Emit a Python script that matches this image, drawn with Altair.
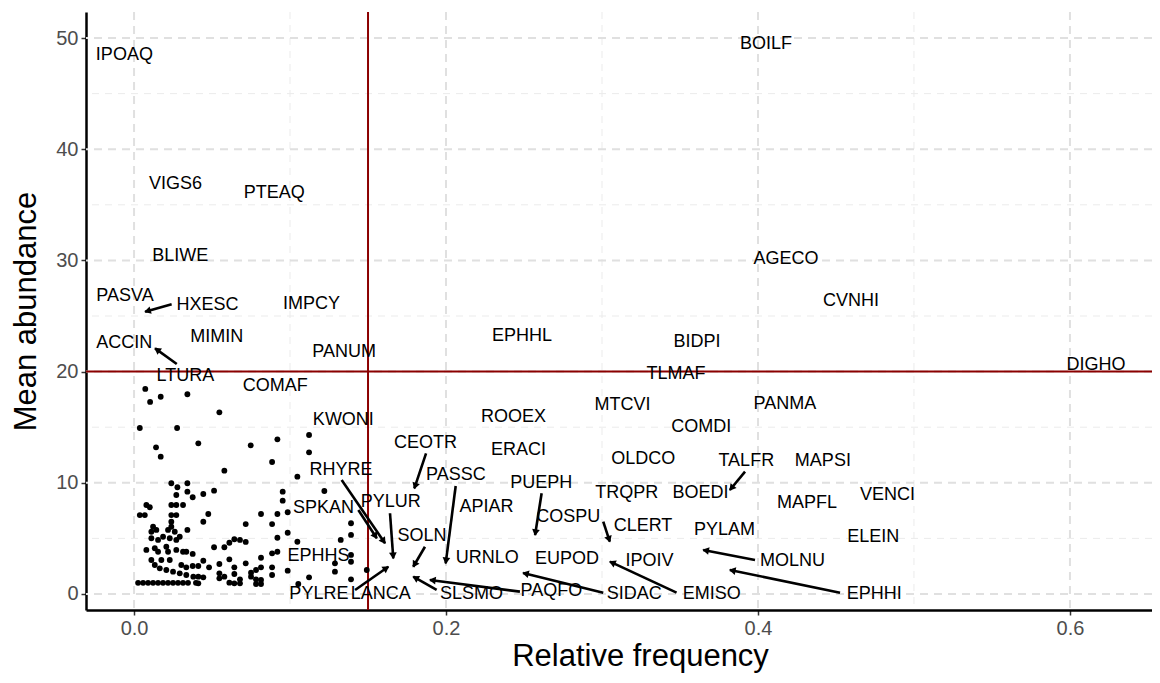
import math
import altair as alt
import pandas as pd

# ---------------- data ----------------
# unlabelled species (black dots)
dot_x = [0.0072, 0.0103, 0.0171, 0.0342, 0.0547, 0.0037, 0.0276, 0.0141, 0.0171, 0.0412,
         0.0748, 0.0919, 0.1122, 0.1122, 0.0885, 0.0579, 0.1047, 0.1220, 0.0239, 0.0278,
         0.0342, 0.0342, 0.0376, 0.0271, 0.0444, 0.0513, 0.0953, 0.0953, 0.0079, 0.0101,
         0.0037, 0.0069, 0.0239, 0.0271, 0.0314, 0.0239, 0.0271, 0.0239, 0.0476, 0.0444,
         0.0814, 0.0919, 0.0985, 0.0716, 0.0885, 0.0985, 0.0919, 0.1047, 0.1391, 0.1391,
         0.1325, 0.1391, 0.1391, 0.1288, 0.1288, 0.1122, 0.1053, 0.1391, 0.1492, 0.0985,
         0.0885, 0.0513, 0.0579, 0.0611, 0.0643, 0.0679, 0.0716, 0.0919, 0.0885, 0.0376,
         0.0376, 0.0412, 0.0444, 0.0481, 0.0547, 0.0611, 0.0643, 0.0716, 0.0814, 0.0814,
         0.0885, 0.0547, 0.0579, 0.0643, 0.0750, 0.0782, 0.0380, 0.0412, 0.0444, 0.0412,
         0.0547, 0.0611, 0.0643, 0.0679, 0.0679, 0.0750, 0.0782, 0.0814, 0.0814, 0.0782,
         0.0122, 0.0111, 0.0143, 0.0218, 0.0239, 0.0261, 0.0111, 0.0154, 0.0186, 0.0229,
         0.0271, 0.0293, 0.0079, 0.0133, 0.0154, 0.0207, 0.0218, 0.0271, 0.0314, 0.0335,
         0.0111, 0.0175, 0.0229, 0.0133, 0.0165, 0.0207, 0.0250, 0.0293, 0.0335, 0.0303,
         0.0335, 0.0342,
         0.0026, 0.0058, 0.0090, 0.0122, 0.0154, 0.0186, 0.0218, 0.0250, 0.0282, 0.0314,
         0.0346, 0.0397]
dot_y = [18.44, 17.27, 17.74, 17.96, 16.34, 14.93, 14.93, 13.19, 12.35, 13.55,
         13.37, 13.91, 14.30, 12.74, 11.87, 11.09, 10.55, 9.26, 9.96, 9.60,
         9.96, 9.20, 8.70, 8.90, 8.99, 9.29, 9.20, 8.39, 8.00, 7.80,
         7.10, 7.10, 8.00, 8.00, 8.00, 7.10, 7.10, 6.50, 7.19, 6.50,
         7.19, 7.19, 7.35, 6.29, 6.29, 5.51, 5.06, 4.70, 6.36, 5.31,
         4.86, 3.51, 2.90, 2.76, 2.01, 1.50, 0.90, 1.32, 2.16, 2.10,
         1.71, 4.20, 4.20, 4.61, 4.92, 4.86, 4.68, 3.80, 3.66, 3.60,
         2.52, 2.52, 2.99, 2.40, 2.70, 3.12, 2.40, 2.76, 3.26, 2.40,
         2.40, 1.86, 1.56, 1.80, 1.92, 2.16, 1.56, 1.56, 1.50, 0.96,
         1.41, 1.02, 0.96, 0.96, 1.32, 1.56, 1.32, 1.26, 0.90, 0.90,
         6.05, 5.60, 5.76, 5.76, 6.05, 5.60, 5.01, 4.86, 5.15, 5.01,
         4.86, 5.15, 3.96, 4.11, 3.80, 4.25, 3.80, 3.96, 3.80, 3.80,
         3.06, 3.06, 3.06, 2.61, 2.31, 2.16, 2.01, 1.86, 1.71, 2.61,
         2.40, 5.76,
         1.0, 1.0, 1.0, 1.0, 1.0, 1.0, 1.0, 1.0, 1.0, 1.0,
         1.0, 1.0]

# labelled species: label position
lab_name = ["IPOAQ", "BOILF", "VIGS6", "PTEAQ", "BLIWE", "AGECO", "PASVA", "HXESC", "IMPCY", "CVNHI",
            "ACCIN", "MIMIN", "PANUM", "EPHHL", "BIDPI", "DIGHO", "TLMAF", "LTURA", "COMAF", "MTCVI",
            "PANMA", "ROOEX", "KWONI", "COMDI", "CEOTR", "ERACI", "OLDCO", "TALFR", "MAPSI", "RHYRE",
            "PASSC", "PUEPH", "TRQPR", "BOEDI", "VENCI", "MAPFL", "PYLUR", "APIAR", "SPKAN", "COSPU",
            "CLERT", "PYLAM", "SOLN", "ELEIN", "EPHHS", "URNLO", "EUPOD", "IPOIV", "MOLNU", "PAQFO",
            "PYLRE", "LANCA", "SLSMO", "SIDAC", "EMISO", "EPHHI"]
lab_x = [-0.0062, 0.4051, 0.0266, 0.0899, 0.0296, 0.4179, -0.0058, 0.0471, 0.1137, 0.4596,
         -0.0063, 0.0530, 0.1347, 0.2487, 0.3609, 0.6167, 0.3474, 0.0329, 0.0905, 0.3131,
         0.4173, 0.2432, 0.1342, 0.3636, 0.1868, 0.2464, 0.3264, 0.3925, 0.4416, 0.1327,
         0.2063, 0.2610, 0.3158, 0.3631, 0.4830, 0.4314, 0.1646, 0.2260, 0.1214, 0.2784,
         0.3263, 0.3785, 0.1846, 0.4739, 0.1182, 0.2265, 0.2776, 0.3304, 0.4222, 0.2675,
         0.1185, 0.1582, 0.2163, 0.3206, 0.3703, 0.4745]
lab_y = [48.43, 49.46, 36.90, 36.10, 30.37, 30.13, 26.84, 26.03, 26.10, 26.35,
         22.59, 23.14, 21.72, 23.20, 22.66, 20.59, 19.78, 19.62, 18.69, 17.00,
         17.09, 15.95, 15.69, 15.02, 13.58, 12.98, 12.16, 11.98, 11.98, 11.12,
         10.66, 9.95, 9.08, 9.08, 8.86, 8.20, 8.23, 7.78, 7.70, 6.92,
         6.13, 5.76, 5.26, 5.13, 3.39, 3.25, 3.18, 2.98, 2.98, 0.29,
         -0.02, 0.00, 0.00, -0.02, 0.00, 0.00]

# leader arrows: species point (tip) and start of the segment near its label
arr_name = ["HXESC", "LTURA", "CEOTR", "PASSC", "PUEPH", "RHYRE", "SPKAN", "PYLUR", "SOLN",
            "LANCA", "SLSMO", "PAQFO", "SIDAC", "EMISO", "EPHHI", "MOLNU", "COSPU", "TALFR"]
arr_x = [0.0071, 0.0135, 0.1797, 0.1998, 0.2571, 0.1609, 0.1556, 0.1662, 0.1790,
         0.1630, 0.1790, 0.1897, 0.2494, 0.3051, 0.3820, 0.3649, 0.3050, 0.3820]
arr_y = [25.39, 22.09, 9.50, 2.76, 5.31, 4.56, 5.01, 3.21, 2.45,
         2.45, 1.56, 1.26, 1.89, 2.91, 2.16, 3.96, 4.71, 9.35]
arr_from_x = [0.0241, 0.0274, 0.1872, 0.2062, 0.2613, 0.1331, 0.1438, 0.1641, 0.1865,
              0.1417, 0.1940, 0.2474, 0.3008, 0.3478, 0.4526, 0.3981, 0.3008, 0.3917]
arr_from_y = [26.05, 20.68, 12.65, 9.71, 9.06, 10.25, 7.55, 7.26, 4.25,
              0.36, 0.36, 0.21, 0.12, 0.12, 0.12, 3.06, 6.50, 11.00]

# reference lines and axis ticks
vline = [0.15]
hline = [20]
x_major = [0.0, 0.2, 0.4, 0.6]
x_minor = [0.1, 0.3, 0.5]
y_major = [0, 10, 20, 30, 40, 50]
y_minor = [5, 15, 25, 35, 45]

# ---------------- chart ----------------
X_DOMAIN = [-0.0308, 0.6526]
Y_DOMAIN = [-1.44, 52.34]
W, H = 1066, 598
FONT = "Liberation Sans"

xs = alt.Scale(domain=X_DOMAIN, nice=False, zero=False)
ys = alt.Scale(domain=Y_DOMAIN, nice=False, zero=False)
xaxis = alt.Axis(values=x_major, format=".1f", title="Relative frequency", grid=False,
                 titleX=554)
yaxis = alt.Axis(values=y_major, title="Mean abundance", grid=False)


def X(f="x"):
    return alt.X(f"{f}:Q", scale=xs, axis=xaxis)


def Y(f="y"):
    return alt.Y(f"{f}:Q", scale=ys, axis=yaxis)


kx = W / (X_DOMAIN[1] - X_DOMAIN[0])
ky = H / (Y_DOMAIN[1] - Y_DOMAIN[0])
ang, hx, hy = [], [], []
for tx, ty, sx, sy in zip(arr_x, arr_y, arr_from_x, arr_from_y):
    dxs = (tx - sx) * kx
    dys = -(ty - sy) * ky
    n = math.hypot(dxs, dys)
    ux, uy = dxs / n, dys / n
    ang.append(math.degrees(math.atan2(ux, -uy)) % 360)
    hx.append(tx - 3.5 * ux / kx)
    hy.append(ty + 3.5 * uy / ky)

dots = pd.DataFrame({"x": dot_x, "y": dot_y})
labels = pd.DataFrame({"name": lab_name, "x": lab_x, "y": lab_y})
arrows = pd.DataFrame({"name": arr_name, "x": arr_x, "y": arr_y,
                       "x2": arr_from_x, "y2": arr_from_y,
                       "hx": hx, "hy": hy, "ang": ang})

grid_minor_v = alt.Chart(pd.DataFrame({"x": x_minor})).mark_rule(
    color="#EBEBEB", strokeWidth=1, strokeDash=[7, 6]).encode(x=X())
grid_major_v = alt.Chart(pd.DataFrame({"x": x_major})).mark_rule(
    color="#E0E0E0", strokeWidth=2, strokeDash=[8, 6]).encode(x=X())
grid_minor_h = alt.Chart(pd.DataFrame({"y": y_minor})).mark_rule(
    color="#EBEBEB", strokeWidth=1, strokeDash=[7, 6]).encode(y=Y())
grid_major_h = alt.Chart(pd.DataFrame({"y": y_major})).mark_rule(
    color="#E0E0E0", strokeWidth=2, strokeDash=[8, 6]).encode(y=Y())

red_v = alt.Chart(pd.DataFrame({"x": vline})).mark_rule(
    color="#8B0000", strokeWidth=2).encode(x=X())
red_h = alt.Chart(pd.DataFrame({"y": hline})).mark_rule(
    color="#8B0000", strokeWidth=2).encode(y=Y())

pts = alt.Chart(dots).mark_circle(color="black", opacity=1, size=34).encode(x=X(), y=Y())

segs = alt.Chart(arrows).mark_rule(color="black", strokeWidth=2.6).encode(
    x=X(), y=Y(), x2="x2:Q", y2="y2:Q")
heads = alt.Chart(arrows).mark_point(
    shape="triangle", filled=True, color="black", opacity=1, size=60).encode(
    x=X("hx"), y=Y("hy"), angle=alt.Angle("ang:Q", scale=None))

texts = alt.Chart(labels).mark_text(
    font=FONT, fontSize=18, color="black", align="center", baseline="middle").encode(
    x=X(), y=Y(), text="name:N")

chart = alt.layer(
    grid_minor_v, grid_minor_h, grid_major_v, grid_major_h,
    red_v, red_h, pts, segs, heads, texts
).properties(
    width=W, height=H,
    autosize=alt.AutoSizeParams(type="none"),
    padding={"left": 78, "top": 4, "right": 0, "bottom": 70},
).configure_view(stroke=None).configure_axis(
    domainColor="black", domainWidth=2.5,
    tickColor="#333333", tickWidth=1.5, tickSize=5,
    labelFont=FONT, labelFontSize=20, labelColor="#4D4D4D", labelPadding=3,
    titleFont=FONT, titleFontSize=31, titleColor="black", titleFontWeight="normal",
).configure_axisX(titlePadding=3).configure_axisY(titlePadding=13)

chart.save("out.html", embed_options={"renderer": "svg", "actions": False})
